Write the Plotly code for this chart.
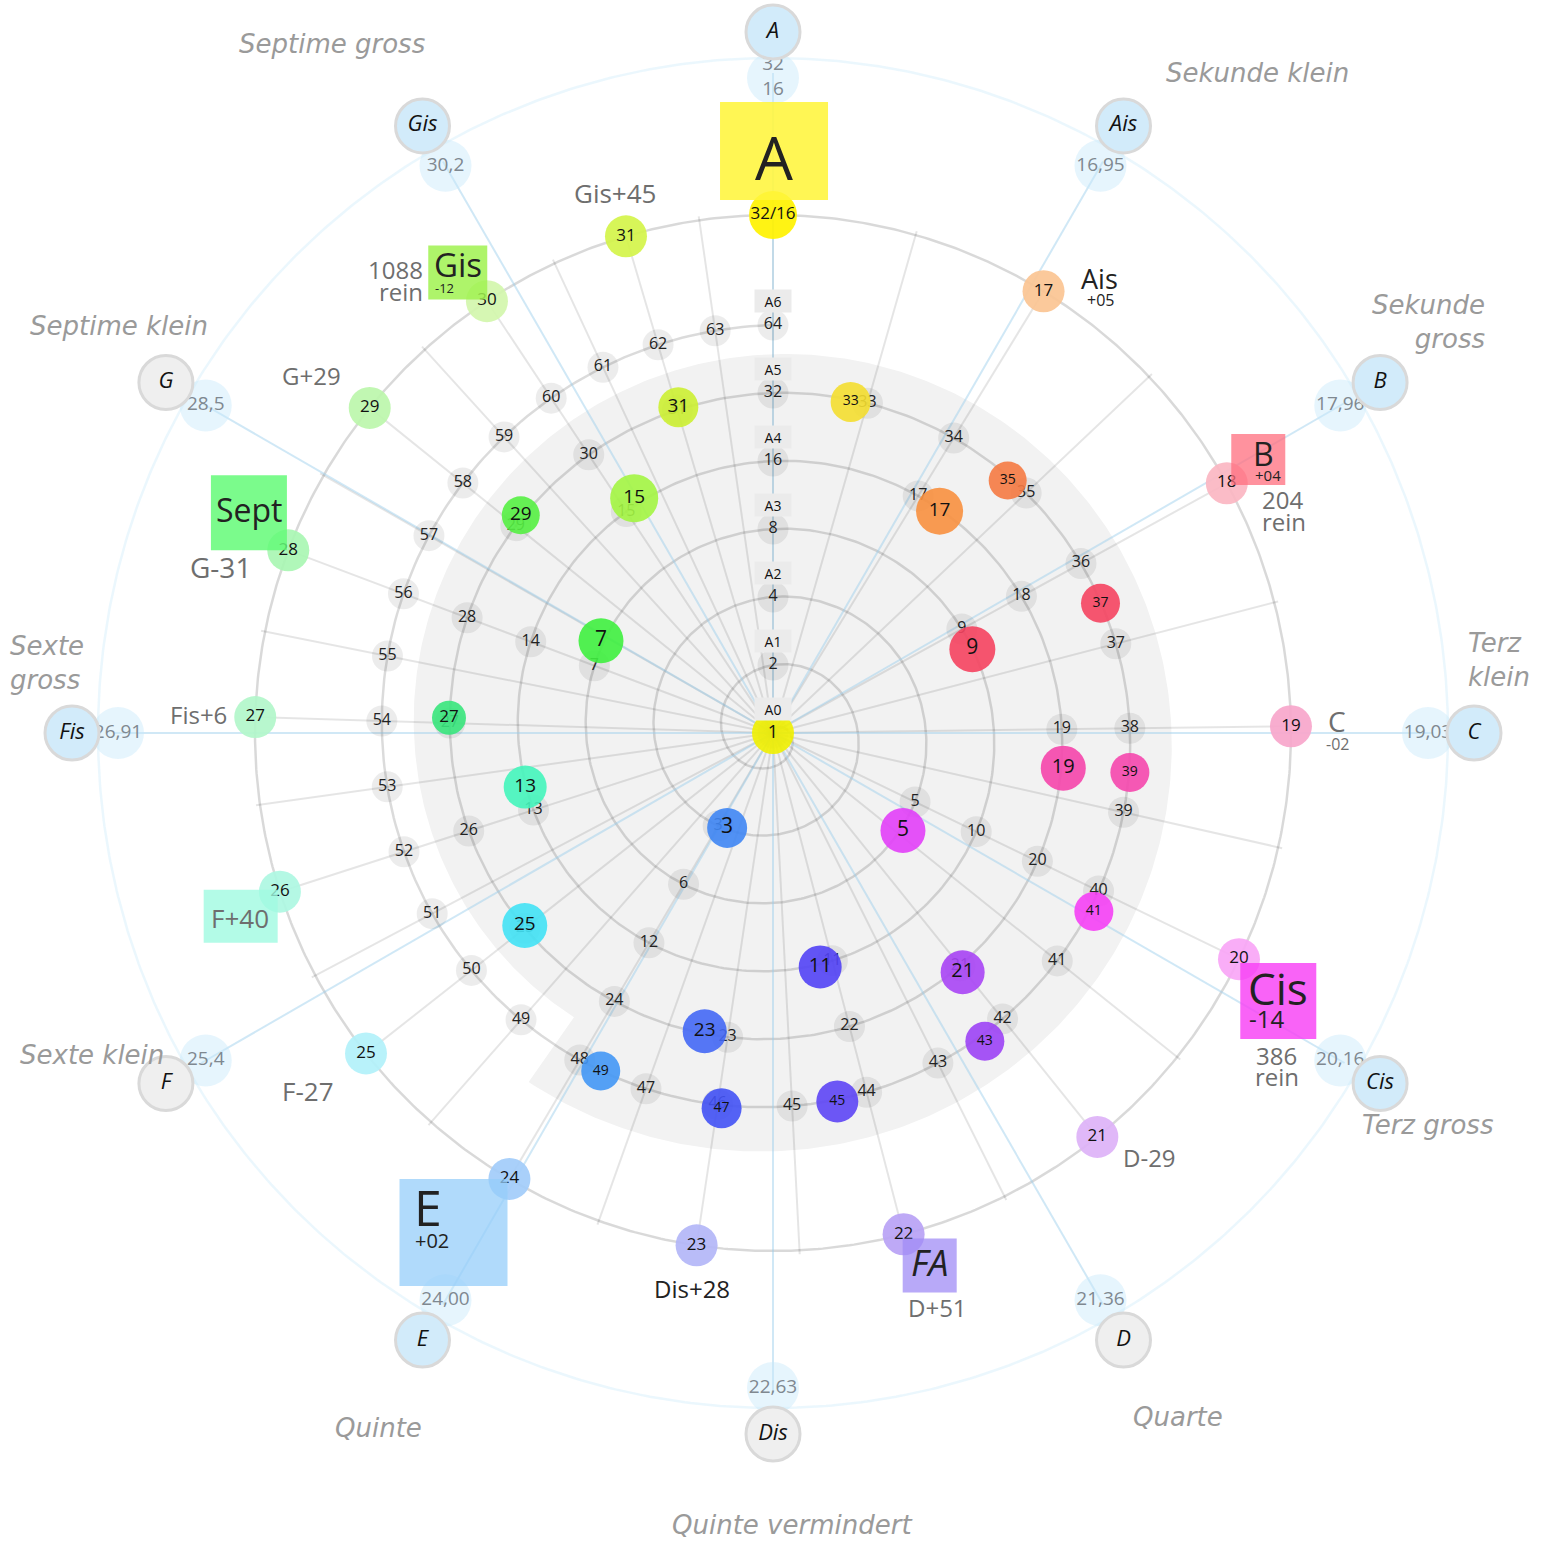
import numpy as np
import plotly.graph_objects as go

# ---------------- data ----------------
harmonics = list(range(1, 65))
octave_labels = ["A0", "A1", "A2", "A3", "A4", "A5", "A6"]

# coloured (odd) harmonics, position (cents around the circle, octave radius)
odd_numbers = [1, 3, 5, 7, 9, 11, 13, 15, 17, 19, 21, 23, 25, 27, 29, 31, 33, 35, 37, 39, 41, 43, 45, 47, 49]
odd_cents = [0, 686, 423, 994, 224, 562, 859, 1098, 123, 323, 472, 643, 774, 909, 1036, 1146,
             44, 143, 228, 321, 397, 485, 567, 626, 690]
odd_octaves = [0.0, 1.55, 2.39, 2.87, 3.18, 3.51, 3.73, 4.01, 4.08, 4.30, 4.49, 4.50, 4.62, 4.77, 4.90, 4.99,
               5.00, 5.07, 5.18, 5.28, 5.40, 5.50, 5.50, 5.57, 5.58]

ring_harmonics = list(range(17, 33))
ring_labels = [str(n) for n in range(17, 32)] + ["32/16"]

note_names = ["A", "Ais", "B", "C", "Cis", "D", "Dis", "E", "F", "Fis", "G", "Gis"]
note_grey = [False, False, False, False, False, True, True, False, True, False, True, False]
tet_values = ["32<br>16", "16,95", "17,96", "19,03", "20,16", "21,36", "22,63", "24,00",
              "25,4", "26,91", "28,5", "30,2"]

interval_names = ["Sekunde klein", "Sekunde<br>gross", "Terz<br>klein", "Terz gross", "Quarte",
                  "Quinte vermindert", "Quinte", "Sexte klein", "Sexte<br>gross",
                  "Septime klein", "Septime gross"]

# ---------------- styles / geometry ----------------
OCT = 68.0          # px per octave on the spiral
R_RING = 518.0      # outer ring of harmonics 16..32
R_FAINT = 675.0
R_BUBBLE = 655.0
R_NOTE = 701.0
FONT = "Open Sans, Noto Sans, sans-serif"
GREY_TXT = "#6e6e6e"
DARK = "#222222"


def xy(theta, r):
    t = np.radians(np.asarray(theta, dtype=float))
    r = np.asarray(r, dtype=float)
    return r * np.sin(t), r * np.cos(t)


def harm_angle(n):
    return 360.0 * (np.log2(n) % 1.0)


fig = go.Figure()

# grey spiral background
th = np.linspace(215, 575, 500)
rr = 347 + 79 * (th - 215) / 360
bx, by = xy(th, rr)
fig.add_trace(go.Scatter(x=np.append(bx, bx[0]), y=np.append(by, by[0]), mode="lines",
                         fill="toself", fillcolor="#f2f2f2", line=dict(width=0), hoverinfo="skip"))

# faint blue circle, outer grey circle
cc = np.linspace(0, 360, 721)
fx, fy = xy(cc, np.full_like(cc, R_FAINT))
fig.add_trace(go.Scatter(x=fx, y=fy, mode="lines", line=dict(color="rgba(190,228,248,0.3)", width=2.5),
                         hoverinfo="skip"))
ox, oy = xy(cc, np.full_like(cc, R_RING))
fig.add_trace(go.Scatter(x=ox, y=oy, mode="lines", line=dict(color="rgba(0,0,0,0.15)", width=2.5),
                         hoverinfo="skip"))

# spokes of odd harmonics
sx, sy = [], []
for k in range(1, 64, 2):
    a = harm_angle(k)
    ex, ey = xy(a, 522)
    sx += [0, float(ex), None]
    sy += [0, float(ey), None]
fig.add_trace(go.Scatter(x=sx, y=sy, mode="lines", line=dict(color="rgba(0,0,0,0.10)", width=2),
                         hoverinfo="skip"))

# spiral line 1..64
t = np.linspace(0, 6, 2000)
spx, spy = xy(360 * t, OCT * t)
fig.add_trace(go.Scatter(x=spx, y=spy, mode="lines", line=dict(color="rgba(0,0,0,0.14)", width=2.5),
                         hoverinfo="skip"))

# equal temperament lines (light blue)
lx, ly = [], []
for j in range(12):
    ex, ey = xy(30 * j, 660)
    lx += [0, float(ex), None]
    ly += [0, float(ey), None]
fig.add_trace(go.Scatter(x=lx, y=ly, mode="lines", line=dict(color="rgba(150,205,235,0.45)", width=2),
                         hoverinfo="skip"))

# grey harmonic markers on the spiral
h = np.array(harmonics, dtype=float)
hx, hy = xy(harm_angle(h), OCT * np.log2(h))
fig.add_trace(go.Scatter(x=hx, y=hy, mode="markers+text", text=[str(n) for n in harmonics],
                         textposition="middle center",
                         marker=dict(size=31, color="rgba(0,0,0,0.075)", line=dict(width=0)),
                         textfont=dict(family=FONT, size=16, color=DARK), hoverinfo="skip"))

# coloured odd harmonics
inner_colors = ["#f0f000", "#3f86f4", "#e23ff8", "#3ff03f", "#f5435f", "#5242f5", "#44f5bb", "#a3f542",
                "#f8903f", "#f545ab", "#a845f5", "#4468f5", "#42e2f5", "#38e67c", "#55f042", "#ccf032",
                "#f4de30", "#f57a42", "#f54460", "#f547ad", "#f540f5", "#9c42f5", "#5d45f5", "#4252f5",
                "#4297f5"]
inner_sizes = [42, 40, 45, 45, 46, 43, 43, 48, 47, 45, 44, 44, 45, 34, 38, 40,
               40, 38, 39, 39, 39, 39, 42, 40, 39]
inner_text = [18, 21, 21, 21, 21, 20, 19, 19, 19, 20, 20, 19, 19, 17, 19, 19,
              14, 14, 14, 14, 14, 14, 14, 14, 14]
ix, iy = xy(np.array(odd_cents) * 0.3, np.array(odd_octaves) * OCT)
fig.add_trace(go.Scatter(x=ix, y=iy, mode="markers+text", text=[str(n) for n in odd_numbers],
                         textposition="middle center",
                         marker=dict(size=inner_sizes, color=inner_colors, opacity=0.9, line=dict(width=0)),
                         textfont=dict(family=FONT, size=inner_text, color="#111111"), hoverinfo="skip"))

# outer ring harmonics 17..32
ring_colors = ["#fbc493", "#fbb6c2", "#f7a6cb", "#f8a6f6", "#ddb2f7", "#b8a2f5", "#b3b6f7", "#a2ccfa",
               "#b2f1fa", "#aef7e2", "#b2f6ca", "#a9f6b3", "#bcf6ab", "#d3f6ac", "#d4f44a", "#fff200"]
rg = np.array(ring_harmonics, dtype=float)
rx, ry = xy(360 * np.log2(rg / 16.0), np.full_like(rg, R_RING))
fig.add_trace(go.Scatter(x=rx, y=ry, mode="markers+text", text=ring_labels, textposition="middle center",
                         marker=dict(size=[42] * 15 + [48], color=ring_colors, opacity=0.92, line=dict(width=0)),
                         textfont=dict(family=FONT, size=17, color="#111111"), hoverinfo="skip"))

# equal-tempered value bubbles
ang12 = np.arange(12) * 30.0
bbx, bby = xy(ang12, np.full(12, R_BUBBLE))
fig.add_trace(go.Scatter(x=bbx, y=bby, mode="markers+text", text=tet_values, textposition="middle center",
                         marker=dict(size=52, color="rgba(200,233,251,0.45)", line=dict(width=0)),
                         textfont=dict(family=FONT, size=19, color="#7f8890"), hoverinfo="skip"))

# note name circles
nx, ny = xy(ang12, np.full(12, R_NOTE))
fig.add_trace(go.Scatter(x=nx, y=ny, mode="markers+text", text=["<i>%s</i>" % s for s in note_names],
                         textposition="middle center",
                         marker=dict(size=54, color=["#efefef" if g else "#d2ebfa" for g in note_grey],
                                     line=dict(width=3, color="#d9d9d9")),
                         textfont=dict(family=FONT, size=22, color="#111111"), hoverinfo="skip"))

shapes = []
annotations = []

# octave labels A0..A6
for k, lab in enumerate(octave_labels):
    x0, y0 = xy(0.0, OCT * k + 24)
    annotations.append(dict(x=float(x0), y=float(y0), text=lab, showarrow=False, bgcolor="#ebebeb",
                            width=34, height=20, font=dict(family=FONT, size=14, color="#111111")))

# interval names (theta, r, anchor)
interval_pos = [(36.3, 819, "center"), (60.07, 824, "right"), (84.0, 697, "left"), (120.9, 763, "center"),
                (149.4, 795, "center"), (178.6, 792, "center"), (209.6, 799, "center"),
                (244.7, 753, "center"), (275.2, 768, "left"), (301.9, 770, "center"), (327.4, 818, "center")]
for name, (a, r, anc) in zip(interval_names, interval_pos):
    x0, y0 = xy(a, r)
    annotations.append(dict(x=float(x0), y=float(y0), text="<i>%s</i>" % name, showarrow=False,
                            xanchor=anc, align=anc if anc != "center" else "center",
                            font=dict(family="DejaVu Sans", size=26, color="#9a9a9a")))

# coloured boxes (theta, r, w, h, colour)
boxes = [(0.1, 582, 108, 98, "rgba(255,245,60,0.88)"),
         (325.6, 558, 59, 54, "rgba(160,242,80,0.85)"),
         (292.8, 568.5, 76, 75, "rgba(100,250,120,0.85)"),
         (251.0, 563, 74, 53, "rgba(160,250,225,0.8)"),
         (212.6, 593, 108, 107, "rgba(150,205,250,0.75)"),
         (163.6, 555, 54, 54, "rgba(160,140,245,0.75)"),
         (117.95, 572, 76, 76, "rgba(248,60,245,0.8)"),
         (60.6, 557, 54, 51, "rgba(255,110,125,0.75)")]
for a, r, w, hgt, col in boxes:
    cx, cy = xy(a, r)
    shapes.append(dict(type="rect", xref="x", yref="y", x0=float(cx) - w / 2, x1=float(cx) + w / 2,
                       y0=float(cy) - hgt / 2, y1=float(cy) + hgt / 2, fillcolor=col,
                       line=dict(width=0), layer="above"))

# text labels (text, theta, r, size, colour, xanchor)
labels = [("A", 0.1, 576, 60, DARK, "center"),
          ("Gis+45", 343.7, 563, 26, GREY_TXT, "center"),
          ("Gis", 326.1, 565, 33, DARK, "center"),
          ("-12", 323.5, 553, 13, DARK, "center"),
          ("1088", 323.1, 579, 24, GREY_TXT, "right"),
          ("rein", 321.7, 562, 24, GREY_TXT, "right"),
          ("G+29", 307.8, 584, 24, GREY_TXT, "center"),
          ("Sept", 293.1, 569, 32, DARK, "center"),
          ("G-31", 286.7, 577, 28, GREY_TXT, "center"),
          ("Fis+6", 271.8, 575, 24, GREY_TXT, "center"),
          ("F+40", 250.9, 564, 26, GREY_TXT, "center"),
          ("F-27", 232.4, 587, 26, GREY_TXT, "center"),
          ("E", 216.05, 586, 50, DARK, "center"),
          ("+02", 213.9, 612, 20, DARK, "center"),
          ("Dis+28", 188.3, 561, 24, DARK, "center"),
          ("<i>FA</i>", 163.5, 552, 36, DARK, "center"),
          ("D+51", 164.05, 597, 24, GREY_TXT, "center"),
          ("D-29", 138.4, 567, 24, GREY_TXT, "center"),
          ("Cis", 116.8, 566, 44, DARK, "center"),
          ("-14", 120.0, 570, 24, DARK, "center"),
          ("386", 122.6, 598, 24, GREY_TXT, "center"),
          ("rein", 124.3, 610, 24, GREY_TXT, "center"),
          ("C", 88.8, 564, 28, GREY_TXT, "center"),
          ("-02", 91.1, 565, 16, GREY_TXT, "center"),
          ("B", 60.3, 565, 32, DARK, "center"),
          ("+04", 62.5, 558, 15, DARK, "center"),
          ("204", 65.35, 561, 24, GREY_TXT, "center"),
          ("rein", 67.5, 553, 24, GREY_TXT, "center"),
          ("Ais", 35.7, 560, 27, DARK, "center"),
          ("+05", 37.1, 543, 16, DARK, "center")]
for txt, a, r, sz, col, anc in labels:
    x0, y0 = xy(a, r)
    annotations.append(dict(x=float(x0), y=float(y0), text=txt, showarrow=False, xanchor=anc,
                            font=dict(family=FONT, size=sz, color=col)))

fig.update_layout(
    width=1543, height=1543, margin=dict(l=0, r=0, t=0, b=0),
    paper_bgcolor="white", plot_bgcolor="white", showlegend=False, hovermode=False,
    xaxis=dict(range=[-773, 770], visible=False, fixedrange=True),
    yaxis=dict(range=[-810, 733], visible=False, fixedrange=True),
    shapes=shapes, annotations=annotations,
)

fig.write_html("out.html", config={"displayModeBar": False},
               post_script="document.body.style.margin='0px';")
